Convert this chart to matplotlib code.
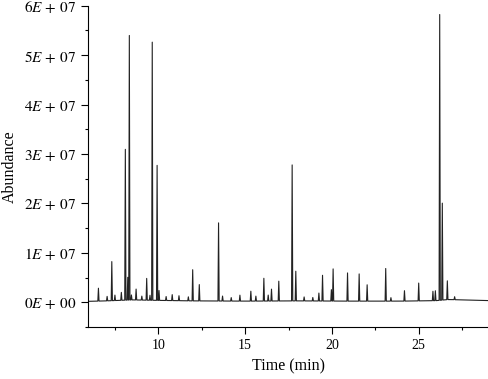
import numpy as np
import matplotlib
matplotlib.use("Agg")
import matplotlib.pyplot as plt
from matplotlib.ticker import FixedLocator, MultipleLocator, FuncFormatter

plt.rcParams["font.family"] = ["Liberation Serif", "DejaVu Serif"]
plt.rcParams["mathtext.fontset"] = "stix"

# ------------------------------------------------------------------ data
# retention time (min) and apex abundance of each peak
peak_time = [6.55, 7.05, 7.32, 7.50, 7.87, 8.10, 8.24, 8.33, 8.45, 8.72, 9.05,
             9.33, 9.52, 9.65, 9.93, 10.04, 10.45, 10.80, 11.19, 11.73, 11.98,
             12.36, 13.47, 13.70, 14.20, 14.70, 15.33, 15.62, 16.08, 16.33,
             16.52, 16.94, 17.71, 17.92, 18.40, 18.90, 19.25, 19.46, 19.97,
             20.07, 20.90, 21.57, 22.03, 23.10, 23.40, 24.18, 25.00, 25.82,
             25.96, 26.21, 26.36, 26.65, 27.07]
peak_height = [2.6e6, 0.9e6, 7.9e6, 1.1e6, 1.6e6, 3.05e7, 4.6e6, 5.35e7, 1.0e6,
               2.2e6, 0.8e6, 4.4e6, 1.0e6, 5.22e7, 2.73e7, 2.0e6, 0.8e6, 1.2e6,
               1.0e6, 0.8e6, 6.3e6, 3.3e6, 1.58e7, 1.0e6, 0.7e6, 1.2e6, 2.0e6,
               1.0e6, 4.6e6, 1.2e6, 2.4e6, 4.0e6, 2.75e7, 6.0e6, 0.8e6, 0.7e6,
               1.6e6, 5.2e6, 2.3e6, 6.5e6, 5.7e6, 5.5e6, 3.3e6, 6.6e6, 0.7e6,
               2.1e6, 3.6e6, 1.9e6, 2.0e6, 5.78e7, 1.96e7, 3.8e6, 0.6e6]

# slowly drifting baseline
base_time = [5.9, 7.0, 8.5, 10.0, 12.0, 15.0, 18.0, 21.0, 24.0, 26.0, 26.8, 27.5, 29.1]
base_level = [2.0e5, 3.0e5, 5.0e5, 4.0e5, 3.0e5, 2.5e5, 3.0e5, 2.5e5, 2.5e5,
              3.5e5, 6.0e5, 4.5e5, 3.5e5]

# ------------------------------------------------------------------ trace
HALF_W = 0.035
t_pts, y_pts = [base_time[0]], [base_level[0]]
for t0, h in zip(peak_time, peak_height):
    b = np.interp(t0, base_time, base_level)
    t_pts += [t0 - HALF_W, t0, t0 + HALF_W]
    y_pts += [np.interp(t0 - HALF_W, base_time, base_level), b + h,
              np.interp(t0 + HALF_W, base_time, base_level)]
t_pts.append(base_time[-1])
y_pts.append(base_level[-1])

fig = plt.figure(figsize=(4.89, 3.79), dpi=100)
ax = fig.add_axes([0.18, 0.137, 0.82, 0.848])
ax.plot(t_pts, y_pts, color="#222222", lw=0.8)

ax.set_xlim(5.95, 29.05)
ax.set_ylim(-0.5e7, 6e7)
ax.spines["top"].set_visible(False)
ax.spines["right"].set_visible(False)

ax.xaxis.set_major_locator(FixedLocator([10, 15, 20, 25]))
ax.xaxis.set_minor_locator(FixedLocator([7.5, 12.5, 17.5, 22.5, 27.5]))
ax.yaxis.set_major_locator(MultipleLocator(1e7))
ax.yaxis.set_minor_locator(MultipleLocator(0.5e7))


def sci(v, pos):
    n = int(round(v / 1e7))
    if n == 0:
        return r"$0E\,+\,00$"
    return r"$%dE\,+\,07$" % n


ax.yaxis.set_major_formatter(FuncFormatter(sci))
ax.tick_params(which="major", direction="out", length=5, width=0.8)
ax.tick_params(which="minor", direction="out", length=2.5, width=0.8)
ax.tick_params(axis="y", labelsize=11)
ax.tick_params(axis="x", labelsize=10)

ax.set_xlabel("Time (min)", fontsize=11.5, labelpad=5)
ax.set_ylabel("Abundance", fontsize=11.5, labelpad=4)

fig.savefig("out.png", dpi=100)
